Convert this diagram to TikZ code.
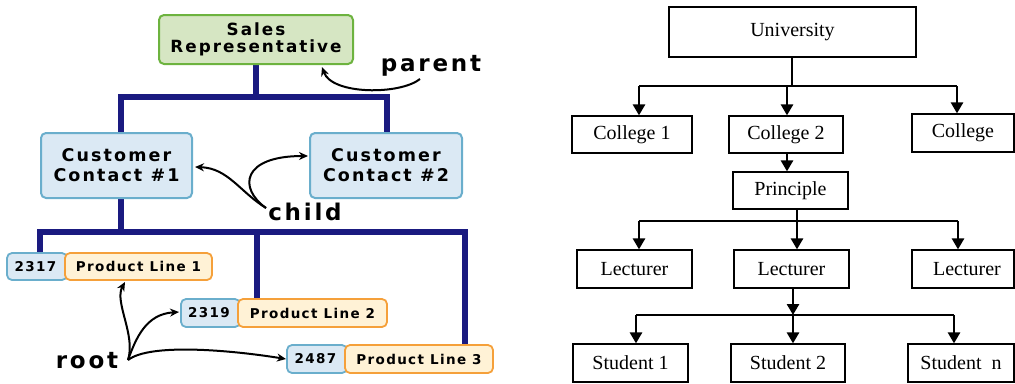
\documentclass[tikz,border=0pt]{standalone}
\usepackage{fontspec}
\setmainfont{Liberation Serif}
\newfontfamily\lsans[LetterSpace=12]{DejaVu Sans}
\newfontfamily\lsansb[LetterSpace=10]{DejaVu Sans}
\usetikzlibrary{arrows.meta}
\definecolor{navy}{HTML}{1A1A80}
\definecolor{gfill}{HTML}{D6E6C3}
\definecolor{gline}{HTML}{6DB33F}
\definecolor{bfill}{HTML}{DBE9F4}
\definecolor{bline}{HTML}{6AAECC}
\definecolor{ofill}{HTML}{FFF2D6}
\definecolor{oline}{HTML}{F5A03A}
\tikzset{
  bar/.style={navy, line width=6pt},
  lbox/.style={rounded corners=5pt, line width=2pt, inner sep=0pt, align=center,
     font=\lsans\bfseries\fontsize{17.5}{20}\selectfont},
  gbox/.style={lbox, draw=gline, fill=gfill},
  bbox/.style={lbox, draw=bline, fill=bfill},
  pid/.style={lbox, draw=bline, fill=bfill, line width=1.8pt, font=\lsansb\bfseries\fontsize{13.5}{15}\selectfont, minimum width=60pt, minimum height=27pt},
  pname/.style={lbox, draw=oline, fill=ofill, line width=1.8pt, font=\lsansb\bfseries\fontsize{13.5}{15}\selectfont, minimum width=148pt, minimum height=27pt},
  lab/.style={inner sep=0pt, font=\lsans\bfseries\fontsize{23}{25}\selectfont},
  ann/.style={black, line width=2pt, -{Stealth[length=9pt,width=8pt]}},
  rbox/.style={draw, line width=1.2pt, inner sep=0pt, font=\fontsize{20}{23}\selectfont},
  thinl/.style={line width=1.3pt},
  arr/.style={line width=2.6pt, -{Triangle[length=11pt,width=12pt]}}
}
\begin{document}
\begin{tikzpicture}[x=1pt,y=-1pt]
\useasboundingbox (0,0) rectangle (1015,383);
% ---------- left diagram ----------
\coordinate (j1) at (256,97);
\coordinate (j2) at (121,232);
\draw[bar] (256,60) -- (j1);
\draw[bar] (121,137) |- (j1) -| (387,137);
\draw[bar] (121,195) -- (j2);
\draw[bar] (40,256) |- (j2) -| (465,349);
\draw[bar] (257,232) -- (257,302);
\node[gbox, minimum width=194pt, minimum height=49pt, font=\lsans\bfseries\fontsize{16.8}{18.5}\selectfont] (sales) at (256,39.5) {Sales\\[-1pt]Representative};
\node[bbox, minimum width=151pt, minimum height=65pt] (cust1) at (116.5,165.5) {Customer\\Contact \#1};
\node[bbox, minimum width=152pt, minimum height=65pt] (cust2) at (386,165.5) {Customer\\Contact \#2};
\node[pid] (p1id) at (37,266.5) {2317\hspace*{3pt}};
\node[pname, minimum width=147pt] (p1) at (138.5,266.5) {Product Line 1};
\node[pid, minimum width=59pt, minimum height=28pt] (p2id) at (210.5,313) {2319\hspace*{3pt}};
\node[pname, minimum width=149pt, minimum height=28pt] (p2) at (312.5,313) {Product Line 2};
\node[pid, minimum height=28pt] (p3id) at (317,359) {2487\hspace*{3pt}};
\node[pname, minimum height=28pt] (p3) at (419,359) {Product Line 3};
\node[lab] (parent) at (431,66) {parent};
\node[lab] (child) at (305,212) {child};
\node[lab] (root) at (87,361) {root};
\coordinate (pa) at (420,79);
\draw[ann] (pa) .. controls (400,95) and (332,95) .. (322,67);
\coordinate (ch) at (266,208);
\draw[ann] (ch) .. controls (240,192) and (228,168) .. (195,167);
\draw[ann] (ch) .. controls (238,188) and (242,156) .. (308,156);
\coordinate (rt) at (128,360);
\draw[ann] (rt) .. controls (136,335) and (114,302) .. (125,282);
\draw[ann] (rt) .. controls (136,338) and (146,314) .. (179,312);
\draw[ann] (rt) .. controls (150,343) and (230,350) .. (286,359);
% ---------- right diagram ----------
\node[rbox, minimum width=247pt, minimum height=50pt] (uni) at (792.5,32) {University};
\node[rbox, minimum width=120pt, minimum height=37pt] (col1) at (632,134.5) {College 1};
\node[rbox, minimum width=114pt, minimum height=37pt] (col2) at (786,134.5) {College 2};
\node[rbox, minimum width=102pt, minimum height=38pt] (col3) at (963,133) {College};
\node[rbox, minimum width=115pt, minimum height=37pt] (prin) at (790.5,190.5) {Principle};
\node[rbox, minimum width=115pt, minimum height=38pt] (lec1) at (634.5,269) {Lecturer};
\node[rbox, minimum width=115pt, minimum height=38pt] (lec2) at (791.5,269) {Lecturer};
\node[rbox, minimum width=102pt, minimum height=38pt] (lec3) at (963,269) {\hspace*{8pt}Lecturer};
\node[rbox, minimum width=115pt, minimum height=38pt] (stu1) at (630.5,363) {Student 1};
\node[rbox, minimum width=114pt, minimum height=38pt] (stu2) at (788,363) {Student 2};
\node[rbox, minimum width=106pt, minimum height=38pt] (stun) at (961,363) {Student\ \ n};
% level 1
\coordinate (u) at (792,86);
\draw[thinl] (uni.south -| u) -- (u);
\draw[thinl] (639,86) -- (957,86);
\coordinate (a1) at (639,86);
\coordinate (a2) at (787,86);
\coordinate (a3) at (957,86);
\draw[arr] (a1) -- (a1 |- col1.north);
\draw[arr] (a2) -- (a2 |- col2.north);
\draw[arr] (a3) -- (a3 |- col3.north);
\draw[arr] (col2.south -| a2) -- (a2 |- prin.north);
% level 2
\coordinate (b) at (797,221);
\draw[thinl] (prin.south -| b) -- (b);
\draw[thinl] (639,221) -- (958,221);
\coordinate (b1) at (639,221);
\coordinate (b3) at (958,221);
\draw[arr] (b1) -- (b1 |- lec1.north);
\draw[arr] (b) -- (b |- lec2.north);
\draw[arr] (b3) -- (b3 |- lec3.north);
% level 3
\coordinate (c) at (793,315);
\draw[thinl] (636,315) -- (954,315);
\draw[arr] (lec2.south -| c) -- (c);
\coordinate (c1) at (636,315);
\coordinate (c3) at (954,315);
\draw[arr] (c1) -- (c1 |- stu1.north);
\draw[arr] (c) -- (c |- stu2.north);
\draw[arr] (c3) -- (c3 |- stun.north);
\end{tikzpicture}
\end{document}
